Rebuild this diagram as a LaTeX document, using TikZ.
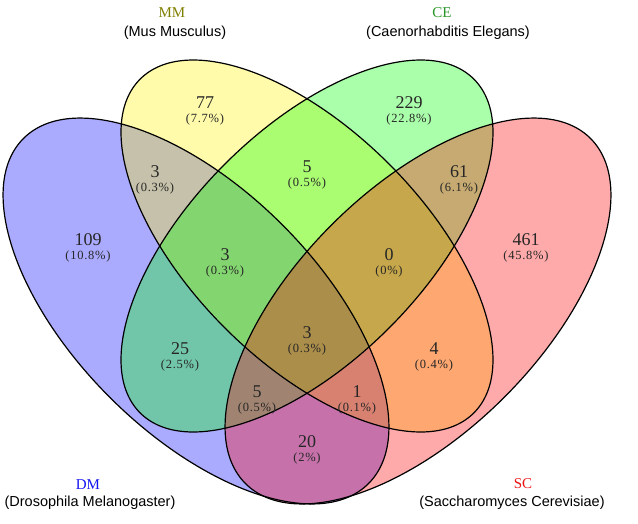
\documentclass[tikz,border=0pt]{standalone}
\usepackage{fontspec}
\setmainfont{Liberation Serif}
\newfontfamily\namefont{Liberation Sans}
\newfontfamily\pctfont[LetterSpace=6]{Liberation Serif}
\usetikzlibrary{positioning}
\definecolor{mmcol}{RGB}{128,128,0}
\definecolor{cecol}{RGB}{40,150,40}
\definecolor{dmcol}{RGB}{20,20,240}
\definecolor{sccol}{RGB}{235,20,20}
\tikzstyle{set} = [fill opacity=0.333]
\tikzstyle{rim} = [draw=black, line width=1.2pt]
\tikzstyle{cnt} = [inner sep=0pt, text=black!85,
    font=\fontsize{18}{18}\selectfont]
\tikzstyle{pct} = [inner sep=0pt, text=black!85,
    font=\pctfont\fontsize{12.5}{12.5}\selectfont]
\tikzstyle{tag} = [inner sep=0pt, font=\fontsize{15}{15}\selectfont]
\tikzstyle{latin} = [inner sep=0pt, font=\namefont\fontsize{14.5}{14.5}\selectfont]
\tikzstyle{outer} = [x radius=244pt, y radius=122pt]
\tikzstyle{inner} = [x radius=236pt, y radius=116pt]

\begin{document}
\begin{tikzpicture}[x=1pt, y=-1pt]
    \useasboundingbox (0,0) rectangle (638,523);

    \coordinate (c_dm) at (196,311);
    \coordinate (c_mm) at (307,246);
    \coordinate (c_ce) at (307,246);
    \coordinate (c_sc) at (418,311);

    % the four sets
    \fill[set, blue, rotate around={-45:(c_dm)}] (c_dm) ellipse [outer];
    \fill[set, yellow, rotate around={-45:(c_mm)}] (c_mm) ellipse [inner];
    \fill[set, green, rotate around={45:(c_ce)}] (c_ce) ellipse [inner];
    \fill[set, red, rotate around={45:(c_sc)}] (c_sc) ellipse [outer];
    \foreach \c/\r/\s in {c_dm/-45/outer, c_mm/-45/inner, c_ce/45/inner, c_sc/45/outer}
        \draw[rim, rotate around={\r:(\c)}] (\c) ellipse [\s];

    % counts
    \node[cnt, name=n_dm] at (88,240) {109};
    \node[cnt, name=n_mm] at (205,103) {77};
    \node[cnt, name=n_ce] at (409,103) {229};
    \node[cnt, name=n_sc] at (526,240) {461};
    \node[cnt, name=n_dmmm] at (155,172) {3};
    \node[cnt, name=n_mmce] at (307,167) {5};
    \node[cnt, name=n_cesc] at (459,172) {61};
    \node[cnt, name=n_dmmmce] at (225,255) {3};
    \node[cnt, name=n_mmcesc] at (389,255) {0};
    \node[cnt, name=n_dmce] at (180,349) {25};
    \node[cnt, name=n_mmsc] at (434,349) {4};
    \node[cnt, name=n_all] at (307,333) {3};
    \node[cnt, name=n_dmcesc] at (257,392) {5};
    \node[cnt, name=n_dmmmsc] at (357,392) {1};
    \node[cnt, name=n_dmsc] at (307,442) {20};

    \node[pct, below=4.5pt of n_dm] {(10.8\%)};
    \node[pct, below=4.5pt of n_mm] {(7.7\%)};
    \node[pct, below=4.5pt of n_ce] {(22.8\%)};
    \node[pct, below=4.5pt of n_sc] {(45.8\%)};
    \node[pct, below=4.5pt of n_dmmm] {(0.3\%)};
    \node[pct, below=4.5pt of n_mmce] {(0.5\%)};
    \node[pct, below=4.5pt of n_cesc] {(6.1\%)};
    \node[pct, below=4.5pt of n_dmmmce] {(0.3\%)};
    \node[pct, below=4.5pt of n_mmcesc] {(0\%)};
    \node[pct, below=4.5pt of n_dmce] {(2.5\%)};
    \node[pct, below=4.5pt of n_mmsc] {(0.4\%)};
    \node[pct, below=4.5pt of n_all] {(0.3\%)};
    \node[pct, below=4.5pt of n_dmcesc] {(0.5\%)};
    \node[pct, below=4.5pt of n_dmmmsc] {(0.1\%)};
    \node[pct, below=4.5pt of n_dmsc] {(2\%)};

    % set names
    \node[tag, text=mmcol, name=t_mm] at (172,13) {MM};
    \node[latin, name=l_mm] at (175,33) {(Mus Musculus)};
    \node[tag, text=cecol, name=t_ce] at (442,13) {CE};
    \node[latin, name=l_ce] at (448,33) {(Caenorhabditis Elegans)};
    \node[tag, text=dmcol, name=t_dm] at (88,485) {DM};
    \node[latin, name=l_dm] at (90,503) {(Drosophila Melanogaster)};
    \node[tag, text=sccol, name=t_sc] at (523,484) {SC};
    \node[latin, name=l_sc] at (512,503) {(Saccharomyces Cerevisiae)};
\end{tikzpicture}
\end{document}
